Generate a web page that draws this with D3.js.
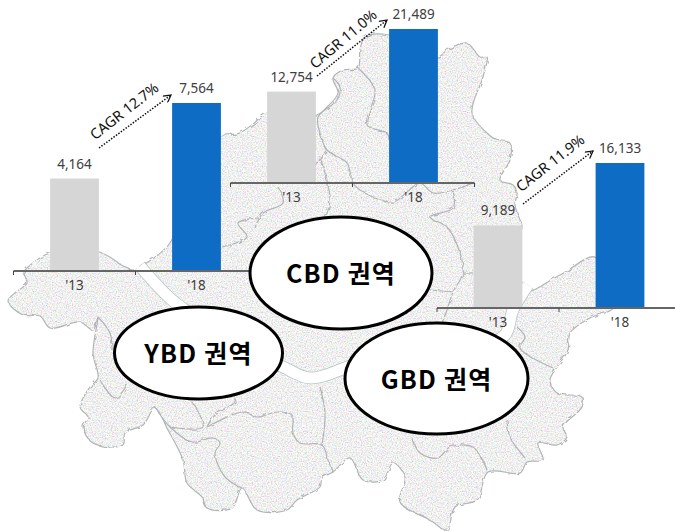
<!DOCTYPE html>
<html><head><meta charset="utf-8">
<script src="https://cdn.jsdelivr.net/npm/d3@7"></script>
<style>html,body{margin:0;padding:0;background:#fff}svg{display:block}text{font-family:"Noto Sans",sans-serif}</style>
</head><body><svg id="c" width="675" height="531"></svg>
<script>
const years = ["'13","'18"];
const ybdValues = [4164,7564];
const cbdValues = [12754,21489];
const gbdValues = [9189,16133];
const cagrLabels = ["CAGR 12.7%","CAGR 11.0%","CAGR 11.9%"];
const regionNames = ["YBD 권역","CBD 권역","GBD 권역"];
const seoulOutline = [[8,301],[16,292],[27,283],[24,272],[33,263],[50,253],[99,252],[133,270],[148,262],[170,243],[190,190],[222,135],[237,134],[252,125],[267,113],[317,115],[327,107],[338,93],[333,78],[343,70],[358,68],[360,50],[365,37],[389,35],[438,57],[447,50],[467,43],[480,57],[487,57],[483,77],[472,113],[487,133],[497,140],[510,143],[510,160],[500,180],[513,185],[517,193],[515,205],[520,220],[522,226],[515,260],[522,292],[560,275],[595,257],[605,285],[613,308],[590,318],[570,333],[568,350],[557,367],[550,380],[557,393],[582,397],[582,407],[563,427],[567,437],[557,445],[538,443],[543,460],[527,462],[520,473],[488,472],[477,500],[455,507],[447,530],[430,520],[400,502],[405,477],[393,463],[383,480],[363,480],[350,458],[333,472],[322,478],[320,487],[297,500],[287,510],[257,510],[242,488],[232,508],[207,508],[202,497],[187,483],[183,460],[168,430],[155,408],[143,425],[125,433],[123,445],[93,443],[83,427],[88,417],[80,407],[90,387],[98,378],[93,353],[98,317],[93,330],[80,322],[50,328],[40,316],[23,315]];
const hanRiver = [[140,266],[172,300],[215,330],[250,352],[283,367],[310,378],[345,368],[400,345],[480,345],[505,335],[513,310],[528,285]];
const districtLines = [
 [[333,78],[340,87],[337,100],[318,117],[320,133],[327,150],[347,163],[353,183],[363,192],[393,202],[407,192],[420,183],[433,193],[453,190],[473,183]],
 [[358,68],[375,90],[367,125],[387,133],[389,140]],
 [[327,152],[313,167],[296,182]],[[320,157],[330,200],[322,225]],[[278,187],[283,203],[263,213],[255,228]],
 [[260,218],[238,223],[247,237],[222,247]],
 [[453,190],[453,208],[430,217],[447,227],[460,253],[463,273],[453,292],[447,310],[442,323]],
 [[463,273],[473,273]],[[453,292],[430,290]],
 [[517,327],[525,337],[520,348],[553,368]],
 [[412,437],[420,453],[438,458],[450,447],[473,447],[487,470]],
 [[507,420],[510,437],[525,458]],
 [[98,317],[110,333],[112,350]],[[100,380],[115,398],[127,385]],
 [[155,407],[170,427],[192,442],[213,438],[220,443],[215,453],[225,477],[242,488]],
 [[170,427],[203,427],[193,403]],
 [[207,427],[215,415],[235,402],[235,396]],
 [[207,427],[243,412],[257,417],[277,412],[292,415],[293,433],[300,443],[322,445],[328,460],[333,473]],
 [[322,445],[325,413],[320,387]]
];
const svg = d3.select("#c");
const defs = svg.append("defs");
const speck = defs.append("filter").attr("id","speck").attr("x",0).attr("y",0).attr("width",1).attr("height",1).attr("color-interpolation-filters","sRGB");
speck.append("feTurbulence").attr("type","fractalNoise").attr("baseFrequency",0.8).attr("numOctaves",2).attr("seed",4).attr("result","n");
speck.append("feColorMatrix").attr("in","n").attr("type","matrix")
 .attr("values","0.55 0 0 0 0.67  0 0.55 0 0 0.67  0 0 0.55 0 0.67  0 0 0 0 1").attr("result","c");
speck.append("feComposite").attr("in","c").attr("in2","SourceAlpha").attr("operator","in");
const wob = defs.append("filter").attr("id","wob").attr("x","-5%").attr("y","-5%").attr("width","110%").attr("height","110%");
wob.append("feTurbulence").attr("type","fractalNoise").attr("baseFrequency",0.18).attr("numOctaves",2).attr("seed",7).attr("result","t");
wob.append("feDisplacementMap").attr("in","SourceGraphic").attr("in2","t").attr("scale",3.5);
defs.append("marker").attr("id","arr").attr("viewBox","0 0 10 10").attr("refX",9).attr("refY",5)
 .attr("markerWidth",9).attr("markerHeight",9).attr("markerUnits","userSpaceOnUse").attr("orient","auto")
 .append("path").attr("d","M1,0.5L9,5L1,9.5").attr("fill","none").attr("stroke","#111").attr("stroke-width",1.4);

const closed = d3.line().curve(d3.curveCatmullRomClosed.alpha(0.5));
const open = d3.line().curve(d3.curveCatmullRom.alpha(0.5));
const map = svg.append("g");
map.append("path").attr("d",closed(seoulOutline)).attr("fill","#000").attr("filter","url(#speck)");
const lines = map.append("g").attr("filter","url(#wob)").attr("fill","none");
lines.append("path").attr("d",closed(seoulOutline)).attr("stroke","#b2b4b6").attr("stroke-width",1.2);
lines.selectAll(".d").data(districtLines).join("path").attr("class","d").attr("d",d=>open(d)).attr("stroke","#b2b4b6").attr("stroke-width",1.2);
map.append("path").attr("d",open(hanRiver)).attr("fill","none").attr("stroke","#b4c4c4").attr("stroke-width",12.5);
map.append("path").attr("d",open(hanRiver)).attr("fill","none").attr("stroke","#fff").attr("stroke-width",11);

function group(values,xr,y0,yTop){
  const x = d3.scaleBand().domain(years).range(xr).paddingInner(0.6).paddingOuter(0.3);
  const y = d3.scaleLinear().domain([0,values[1]]).range([y0,yTop]);
  const g = svg.append("g");
  g.selectAll("rect").data(values).join("rect")
    .attr("x",(d,i)=>x(years[i])).attr("width",x.bandwidth())
    .attr("y",d=>y(d)).attr("height",d=>y0-y(d))
    .attr("fill",(d,i)=>i?"#0f6cc4":"#d6d6d6");
  g.selectAll(".v").data(values).join("text").attr("class","v")
    .attr("x",(d,i)=>x(years[i])+x.bandwidth()/2).attr("y",d=>y(d)-10)
    .attr("text-anchor","middle").attr("font-size",13.5).attr("fill","#404040")
    .text(d=>d3.format(",")(d));
  const ax = d3.axisBottom(x).tickSize(0).tickPadding(9);
  const a = g.append("g").attr("transform",`translate(0,${y0})`).call(ax);
  a.select(".domain").remove();
  a.selectAll("text").attr("font-size",13.5).attr("fill","#404040").style("font-family",'"Noto Sans",sans-serif');
  const edge = [xr[0],xr[0]+x.step(),xr[1]];
  a.append("line").attr("x1",xr[0]).attr("x2",xr[1]).attr("stroke","#666").attr("stroke-width",2);
  a.selectAll(".t").data(edge).join("line").attr("class","t").attr("x1",d=>d).attr("x2",d=>d).attr("y1",0).attr("y2",4).attr("stroke","#444").attr("stroke-width",1);
}
group(ybdValues,[13.5,257.5],271,103);
group(cbdValues,[230.5,474.5],183,29);
group(gbdValues,[437,681],308,163);

const arrows = [[[99,148],[171,95]],[[317,76],[387,20]],[[523,204],[593,151]]];
svg.selectAll(".arrow").data(arrows).join("path").attr("class","arrow").attr("d",d=>d3.line()(d))
  .attr("fill","none").attr("stroke","#111").attr("stroke-width",1.5).attr("stroke-dasharray","1.5 1.5").attr("marker-end","url(#arr)");
const cagrPos = [[125,112,-38],[344,40,-40],[551,164,-38]];
svg.selectAll(".cagr").data(cagrLabels).join("text").attr("class","cagr")
  .attr("transform",(d,i)=>`translate(${cagrPos[i][0]},${cagrPos[i][1]}) rotate(${cagrPos[i][2]})`)
  .attr("text-anchor","middle").attr("dominant-baseline","middle").attr("font-size",14.5).attr("fill","#111").text(d=>d);

const ell = [[198.5,353,84,46],[341,273,91,56],[436.5,378.5,91.5,55.5]];
svg.selectAll("ellipse").data(ell).join("ellipse").attr("cx",d=>d[0]).attr("cy",d=>d[1]).attr("rx",d=>d[2]).attr("ry",d=>d[3])
  .attr("fill","#fff").attr("stroke","#000").attr("stroke-width",3);
svg.selectAll(".r").data(regionNames).join("text").attr("class","r")
  .attr("x",(d,i)=>ell[i][0]).attr("y",(d,i)=>ell[i][1]+10)
  .attr("text-anchor","middle").attr("font-size",25).attr("font-weight",700).attr("fill","#000").attr("letter-spacing",1.2)
  .style("font-family",'"Noto Sans CJK KR",sans-serif').text(d=>d);
</script></body></html>
